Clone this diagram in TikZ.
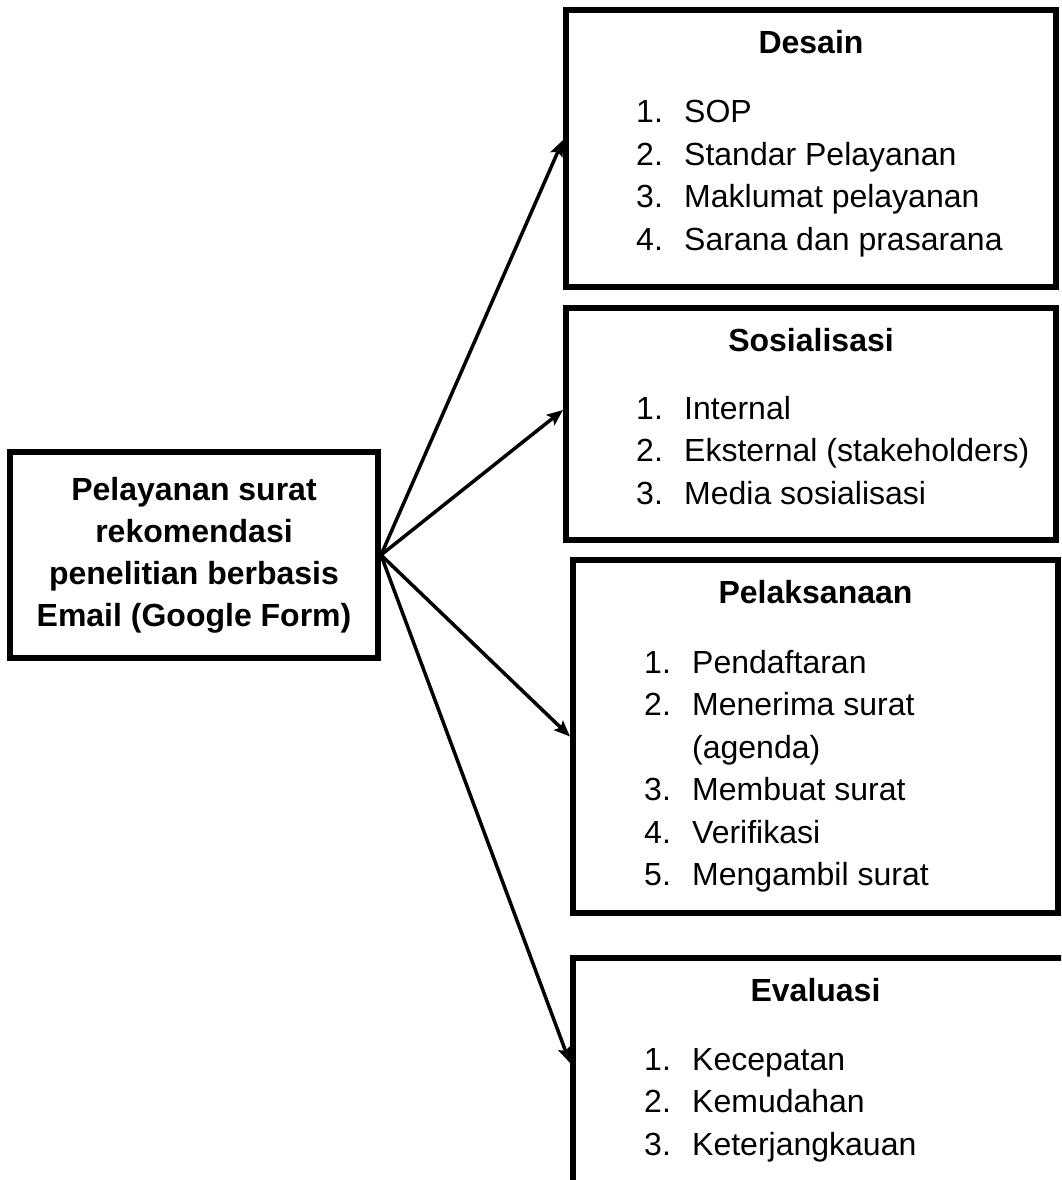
\documentclass[tikz,border=0pt]{standalone}
\usepackage{fontspec}
\setmainfont{Liberation Sans}
\usetikzlibrary{arrows.meta}
\usetikzlibrary{positioning}

\newcommand{\listnum}[1]{\makebox[48pt][l]{#1}}

\begin{document}
\begin{tikzpicture}[x=1pt, y=-1pt, font=\fontsize{32}{42.5}\selectfont]

\tikzstyle{box} = [draw, rectangle, line width=6pt, inner sep=0pt]
\tikzstyle{title} = [inner sep=0pt, font=\fontsize{32}{42.5}\selectfont\bfseries]
\tikzstyle{items} = [inner sep=0pt, align=left]
\tikzstyle{link} = [-{Stealth[length=16pt, width=13pt, inset=3pt]}, line width=3.5pt]

\useasboundingbox (0,0) rectangle (1061,1180);
\clip (0,0) rectangle (1061,1180);

\node[box] (0) at (194,555) [minimum width=368pt, minimum height=206pt, align=center, font=\fontsize{32}{42}\selectfont\bfseries] {Pelayanan surat\\rekomendasi\\penelitian berbasis\\Email (Google Form)};

\node[box] (1) at (811,148.5) [minimum width=490pt, minimum height=277pt] {};
\node[box] (2) [below=15pt of 1, minimum width=490pt, minimum height=232pt] {};
\node[box] (3) [below=14pt of 2, xshift=4.5pt, minimum width=485pt, minimum height=353pt] {};
\node[box] (4) [below=39pt of 3, xshift=16pt, minimum width=517pt, minimum height=282pt] {};

\node[title] (5) [below=23pt of 1.north] {Desain};
\node[title] (6) [below=23pt of 2.north] {Sosialisasi};
\node[title] (7) [below=23pt of 3.north] {Pelaksanaan};
\node[title] (8) [below=23pt of 4.north, xshift=-16pt] {Evaluasi};

\node[items] (9) [below right=93pt and 73pt of 1.north west] {\listnum{1.}SOP\\\listnum{2.}Standar Pelayanan\\\listnum{3.}Maklumat pelayanan\\\listnum{4.}Sarana dan prasarana};
\node[items] (10) [below right=91pt and 73pt of 2.north west] {\listnum{1.}Internal\\\listnum{2.}Eksternal (stakeholders)\\\listnum{3.}Media sosialisasi};
\node[items] (11) [below right=93pt and 74pt of 3.north west] {\listnum{1.}Pendaftaran\\\listnum{2.}Menerima surat\\\listnum{}(agenda)\\\listnum{3.}Membuat surat\\\listnum{4.}Verifikasi\\\listnum{5.}Mengambil surat};
\node[items] (12) [below right=93pt and 74pt of 4.north west] {\listnum{1.}Kecepatan\\\listnum{2.}Kemudahan\\\listnum{3.}Keterjangkauan};

  \path[link]
    (0.east) edge ([yshift=8.5pt]1.west)
    (0.east) edge ([yshift=14pt]2.west)
    (0.east) edge (3.west)
    (0.east) edge ([yshift=-108pt]4.north west);
\end{tikzpicture}
\end{document}
